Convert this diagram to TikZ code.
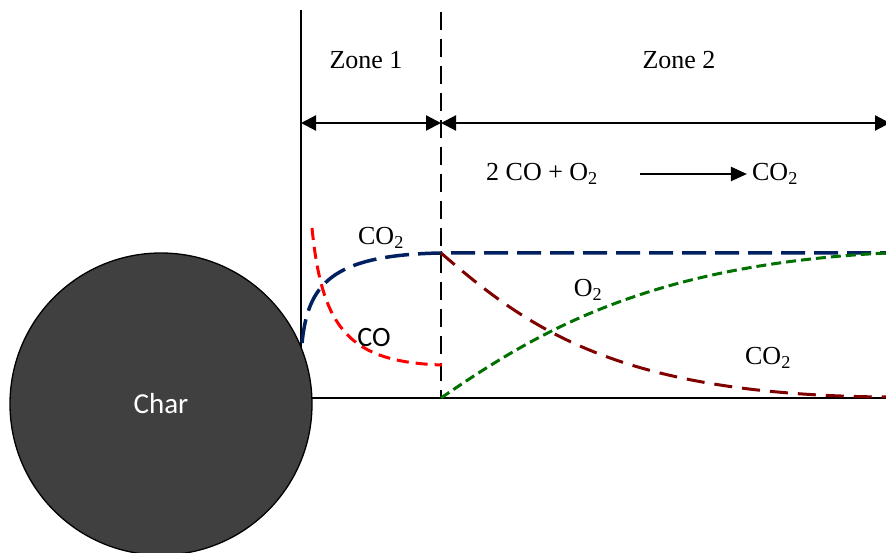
\documentclass[tikz,border=0pt]{standalone}
\usepackage{fontspec}
\setmainfont{Liberation Serif}
\newfontfamily\charfont{Carlito}
\usetikzlibrary{arrows.meta,positioning}
\definecolor{navy}{RGB}{0,32,96}
\definecolor{scarlet}{RGB}{255,0,0}
\definecolor{maroon}{RGB}{128,0,0}
\definecolor{forest}{RGB}{0,112,0}
\definecolor{charcoal}{RGB}{64,64,64}
\tikzset{
  lbl/.style={font=\fontsize{26}{30}\selectfont,inner sep=1pt},
  sanslbl/.style={font=\charfont\fontsize{28}{32}\selectfont,inner sep=1pt},
  wall/.style={line width=2pt},
  floorline/.style={line width=1.3pt},
  divider/.style={line width=2.3pt,dash pattern=on 18pt off 9pt},
  zonespan/.style={line width=2.2pt,{Triangle[length=15pt,width=15pt]}-{Triangle[length=15pt,width=15pt]}},
  reaction/.style={line width=2.2pt,-{Triangle[length=16pt,width=14pt]}},
  charball/.style={circle,draw=black,line width=1.3pt,fill=charcoal,minimum size=302pt,
    inner sep=0pt,text=white,font=\charfont\fontsize{29}{33}\selectfont},
  profile/.style={draw=#1,line width=3pt},
  profile/.default=navy,
}
\begin{document}
\begin{tikzpicture}[x=1pt,y=-1pt]
  \useasboundingbox (0,0) rectangle (886,553);
  % frame
  \coordinate (walltop) at (301,10);
  \coordinate (wallfoot) at (301,350);
  \coordinate (divtop) at (441,12);
  \coordinate (divfoot) at (441,398);
  \coordinate (floorstart) at (300,398);
  \coordinate (floorend) at (886,398);
  \draw[wall] (walltop) -- (wallfoot);
  \draw[floorline] (floorstart) -- (floorend);
  \draw[divider] (divtop) -- (divfoot);
  \node[charball] (char) at (161,404) {Char};
  % zones
  \coordinate (zoneleft) at (301,123);
  \coordinate (zonemid) at (441,123);
  \coordinate (zoneright) at (890,123);
  \draw[zonespan] (zoneleft) -- (zonemid);
  \draw[zonespan] (zonemid) -- (zoneright);
  \node[lbl] (zone1) at (366,60) {Zone 1};
  \node[lbl] (zone2) at (679,60) {Zone 2};
  \node[lbl] (react) at (542,174) {2 CO + O\textsubscript{2}};
  \node[lbl] (prod) at (775,174) {CO\textsubscript{2}};
  \draw[reaction,shorten >=4pt] ([xshift=41pt]react.east) -- (prod.west);
  % profiles
  \coordinate (surf) at (302,343);
  \coordinate (front) at (441,253);
  \coordinate (farco2) at (886,253);
  \coordinate (cotop) at (312,228);
  \coordinate (cofront) at (442,365);
  \coordinate (o2front) at (441,398);
  \coordinate (farlow) at (886,397);
  \draw[profile=navy,dash pattern=on 24pt off 9pt,line width=3.5pt]
    (surf) .. controls (308,285) and (330,255) .. (front) -- (farco2);
  \draw[profile=scarlet,dash pattern=on 12pt off 7pt]
    (cotop) .. controls (322,330) and (350,362) .. (cofront);
  \draw[profile=maroon,dash pattern=on 18pt off 10pt]
    (front) .. controls (530,330) and (620,395) .. (farlow);
  \draw[profile=forest,dash pattern=on 10pt off 5pt]
    (o2front) .. controls (540,330) and (650,265) .. (farco2);
  \node[lbl] (co2in) at (381,238) {CO\textsubscript{2}};
  \node[sanslbl] (coin) at (374,338) {CO};
  \node[lbl] (o2out) at (588,290) {O\textsubscript{2}};
  \node[lbl] (co2out) at (768,358) {CO\textsubscript{2}};
\end{tikzpicture}
\end{document}
